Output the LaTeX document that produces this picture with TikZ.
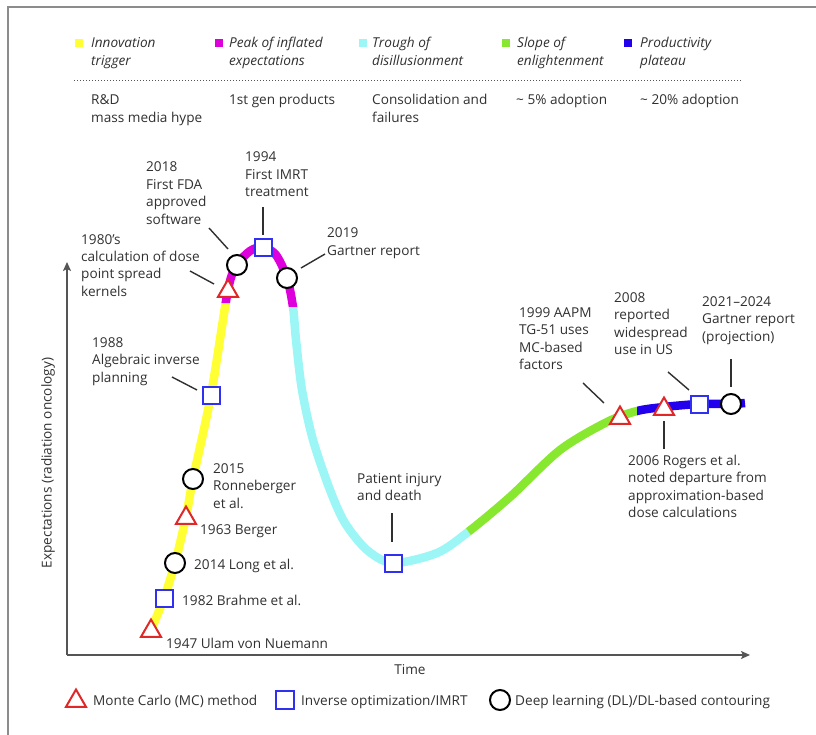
\documentclass[tikz,border=0pt]{standalone}
\usepackage{fontspec}
\setmainfont{Open Sans}
\usetikzlibrary{arrows.meta,shapes.geometric}
\definecolor{txt}{HTML}{303030}
\definecolor{axisgray}{HTML}{555555}
\definecolor{framegray}{HTML}{8C8C8C}
\definecolor{ph1}{HTML}{FFFF33}
\definecolor{ph2}{HTML}{DD00DD}
\definecolor{ph3}{HTML}{9CF6F6}
\definecolor{ph4}{HTML}{88E830}
\definecolor{ph5}{HTML}{2200EE}
\definecolor{mcred}{HTML}{E02828}
\definecolor{imblue}{HTML}{3030F0}
\newcommand{\ml}[1]{\begin{tabular}[t]{@{}l@{}}#1\end{tabular}}
\begin{document}
\begin{tikzpicture}[x=1pt,y=-1pt,
  lbl/.style={anchor=base west,inner sep=0pt,text=txt,font=\fontsize{13.6}{17.5}\selectfont},
  phase/.style={lbl,font=\fontsize{13.6}{17.5}\selectfont\itshape},
  swatch/.style={rectangle,inner sep=0pt,minimum size=8pt},
  mc/.style={regular polygon,regular polygon sides=3,draw=mcred,fill=white,line width=2pt,minimum size=23pt,inner sep=0pt},
  im/.style={rectangle,draw=imblue,fill=white,line width=2pt,minimum size=17pt,inner sep=0pt},
  dl/.style={circle,draw=black,fill=white,line width=2pt,minimum size=20pt,inner sep=0pt},
  lead/.style={draw=txt,line width=1.4pt},
  hype/.style={line width=8.5pt},
  axis/.style={draw=axisgray,line width=1.8pt,-{Stealth[length=9pt,width=8pt,inset=2pt]}}]
\useasboundingbox (0,0) rectangle (816,735);

% outer frame
\draw[framegray,line width=2pt] (8,735) -- (8,7) -- (816,7);

% phase legend
\node[swatch,fill=ph1] (s1) at (79,43) {};
\node[swatch,fill=ph2] (s2) at (219,43) {};
\node[swatch,fill=ph3] (s3) at (363,43) {};
\node[swatch,fill=ph4] (s4) at (506,43) {};
\node[swatch,fill=ph5] (s5) at (628,43) {};
\node[phase] (p1) at (91,48) {\ml{Innovation\\trigger}};
\node[phase] (p2) at (229,48) {\ml{Peak of inflated\\expectations}};
\node[phase] (p3) at (372,48) {\ml{Trough of\\disillusionment}};
\node[phase] (p4) at (517,48) {\ml{Slope of\\enlightenment}};
\node[phase] (p5) at (640,48) {\ml{Productivity\\plateau}};
\coordinate (dotL) at (74,81);
\coordinate (dotR) at (742,81);
\draw[axisgray,line width=1pt,dash pattern=on 1pt off 2pt] (dotL) -- (dotR);
\node[lbl] (d1) at (91,105) {\ml{R\&D\\mass media hype}};
\node[lbl] (d2) at (229,105) {1st gen products};
\node[lbl] (d3) at (372,105) {\ml{Consolidation and\\failures}};
\node[lbl] (d4) at (516,105) {\char`~\ 5\% adoption};
\node[lbl] (d5) at (640,105) {\char`~\ 20\% adoption};

% axes
\coordinate (O) at (67,655);
\coordinate (ytop) at (67,262);
\coordinate (xend) at (750,655);
\draw[axis] (O) -- (ytop);
\draw[axis] (O) -- (xend);
\node[text=txt,font=\fontsize{13.6}{15}\selectfont,anchor=base] (tl) at (410,674) {Time};
\node[text=txt,font=\fontsize{13.6}{15}\selectfont,rotate=90] (el) at (48,463) {Expectations (radiation oncology)};

% hype curve, coloured by phase
\def\hypepath{plot[smooth,tension=0.5] coordinates {
  (151,630) (164,598) (175,563) (186,517) (193,479) (211,395) (228,290)
  (237,265) (250,251) (263,247) (276,255) (287,278) (293,307) (296,340)
  (302,390) (313,440) (330,490) (345,523) (367,550) (393,563) (437,553)
  (468,532) (510,497) (560,450) (607,422) (637,411)
  (664,407) (699,404) (731,404) (745,403)}}
\begin{scope}
  \clip (100,303) rectangle (250,660);
  \draw[hype,ph1] \hypepath;
\end{scope}
\begin{scope}
  \clip (200,200) -- (320,200) -- (320,307) -- (260,307) -- (260,303) -- (200,303) -- cycle;
  \draw[hype,ph2] \hypepath;
\end{scope}
\begin{scope}
  \clip (260,307) -- (310,307) -- (525,612) -- (260,612) -- cycle;
  \draw[hype,ph3] \hypepath;
\end{scope}
\begin{scope}
  \clip (310,307) -- (637,307) -- (637,612) -- (525,612) -- cycle;
  \draw[hype,ph4] \hypepath;
\end{scope}
\begin{scope}
  \clip (637,300) rectangle (770,500);
  \draw[hype,ph5] \hypepath;
\end{scope}

% leader lines
\coordinate (fdaA) at (209,228);  \coordinate (fdaB) at (228,249);
\coordinate (imrtA) at (263,207); \coordinate (imrtB) at (263,235);
\coordinate (gA) at (325,254);    \coordinate (gB) at (301,268);
\coordinate (kA) at (190,271);    \coordinate (kB) at (214,284);
\coordinate (aA) at (172,377);    \coordinate (aB) at (197,390);
\coordinate (pA) at (392,513);    \coordinate (pB) at (392,542);
\coordinate (tgA) at (583,383);   \coordinate (tgB) at (604,403);
\coordinate (usA) at (668,372);   \coordinate (usB) at (689,390);
\coordinate (prA) at (731,359);   \coordinate (prB) at (731,387);
\coordinate (rgA) at (664,421);   \coordinate (rgB) at (664,449);
\foreach \a/\b in {fdaA/fdaB,imrtA/imrtB,gA/gB,kA/kB,aA/aB,pA/pB,tgA/tgB,usA/usB,prA/prB,rgA/rgB}
  \draw[lead] (\a) -- (\b);

% milestones on the curve
\node[mc] (m1947) at (151,631) {};
\node[im] (m1982) at (164,598) {};
\node[dl] (m2014) at (175,563) {};
\node[mc] (m1963) at (186,518) {};
\node[dl] (m2015) at (193,479) {};
\node[im] (m1988) at (211,395) {};
\node[mc] (m1980) at (228,291) {};
\node[dl] (m2018) at (237,265) {};
\node[im] (m1994) at (263,248) {};
\node[dl] (m2019) at (287,278) {};
\node[im] (minj) at (393,563) {};
\node[mc] (m1999) at (620,418) {};
\node[mc] (m2006) at (664,409) {};
\node[im] (m2008) at (699,404) {};
\node[dl] (m2021) at (731,404) {};

% milestone labels
\node[lbl] (t2018) at (146,172) {\ml{2018\\First FDA\\approved\\software}};
\node[lbl] (t1994) at (245,162) {\ml{1994\\First IMRT\\treatment}};
\node[lbl] (t2019) at (327,238) {\ml{2019\\Gartner report}};
\node[lbl] (t1980) at (81,244) {\ml{1980’s\\calculation of dose\\point spread\\kernels}};
\node[lbl] (t1988) at (92,347) {\ml{1988\\Algebraic inverse\\planning}};
\node[lbl] (t2015) at (213,473) {\ml{2015\\Ronneberger\\et al.}};
\node[lbl] (t1963) at (200,534) {1963 Berger};
\node[lbl] (t2014) at (194,569) {2014 Long et al.};
\node[lbl] (t1982) at (182,605) {1982 Brahme et al.};
\node[lbl] (t1947) at (166,648) {1947 Ulam von Nuemann};
\node[lbl] (tinj) at (357,483) {\ml{Patient injury\\and death}};
\node[lbl] (t1999) at (519,317) {\ml{1999 AAPM\\TG-51 uses\\MC-based\\factors}};
\node[lbl] (t2008) at (614,302) {\ml{2008\\reported\\widespread\\use in US}};
\node[lbl] (t2021) at (702,306) {\ml{2021–2024\\Gartner report\\(projection)}};
\node[lbl] (t2006) at (628,465) {\ml{2006 Rogers et al.\\noted departure from\\approximation-based\\dose calculations}};

% marker legend
\node[mc] (lmc) at (76,701) {};
\node[im,minimum size=18pt] (lim) at (285,700) {};
\node[dl] (ldl) at (500,700) {};
\node[lbl] (tmc) at (93,705) {Monte Carlo (MC) method};
\node[lbl] (tim) at (301,705) {Inverse optimization/IMRT};
\node[lbl] (tdl) at (515,705) {Deep learning (DL)/DL-based contouring};
\end{tikzpicture}
\end{document}
